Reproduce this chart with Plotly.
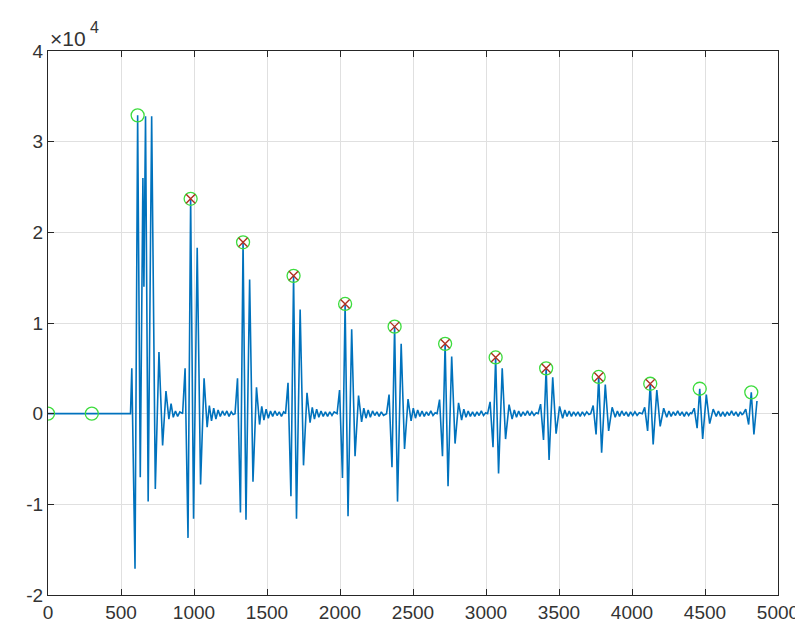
import plotly.graph_objects as go

# ---- data (sample index, raw amplitude) ----
lead_t = [0, 300, 565]
lead_v = [0, 0, 0]

b01_t = [574, 596, 614, 632, 650, 657, 668, 686, 710, 735, 760, 785, 808, 828, 843, 858, 873, 888, 903]
b01_v = [5000, -17100, 32900, -7000, 26000, 14000, 32800, -9700, 32800, -8300, 6800, -3500, 2500, -600, 1100, -400, 300, -300, 200]

b02_t = [922, 939, 959, 977, 997, 1022, 1045, 1069, 1090, 1105, 1120, 1135, 1150, 1165, 1180, 1195, 1210, 1225, 1240, 1255, 1268]
b02_v = [0, 5000, -13700, 23700, -11600, 18300, -7800, 3900, -1500, 900, -800, 600, -600, 400, -300, 300, -200, 300, -300, 200, -100]

b03_t = [1281, 1298, 1318, 1336, 1356, 1381, 1404, 1428, 1449, 1464, 1479, 1494, 1509, 1524, 1539, 1554, 1569, 1584, 1599, 1614]
b03_v = [0, 3900, -10900, 18900, -11700, 14800, -7500, 2900, -1200, 800, -700, 500, -500, 300, -300, 300, -200, 200, -300, 200]

b04_t = [1627, 1644, 1664, 1682, 1702, 1727, 1750, 1774, 1795, 1810, 1825, 1840, 1855, 1870, 1885, 1900, 1915, 1930, 1945, 1960]
b04_v = [0, 3400, -9100, 15200, -11600, 11500, -5700, 2300, -1000, 700, -600, 500, -400, 300, -300, 200, -300, 200, -200, 200]

b05_t = [1980, 1997, 2017, 2035, 2055, 2080, 2103, 2127, 2148, 2163, 2178, 2193, 2208, 2223, 2238, 2253, 2268, 2283, 2298]
b05_v = [0, 2600, -7100, 12100, -11300, 9300, -4700, 2000, -900, 600, -500, 400, -400, 300, -200, 200, -300, 200, -200]

b06_t = [2319, 2336, 2356, 2374, 2394, 2419, 2442, 2466, 2487, 2502, 2517, 2532, 2547, 2562, 2577, 2592, 2607, 2622, 2637, 2652]
b06_v = [0, 2100, -5900, 9600, -9700, 7700, -3900, 1600, -800, 600, -500, 400, -300, 300, -300, 200, -200, 300, -200, 100]

b07_t = [2665, 2682, 2702, 2720, 2740, 2765, 2788, 2812, 2833, 2848, 2863, 2878, 2893, 2908, 2923, 2938, 2953, 2968, 2983, 2998]
b07_v = [0, 1550, -4700, 7700, -8000, 6300, -3300, 1200, -700, 500, -400, 300, -300, 200, -300, 200, -200, 300, -200, 100]

b08_t = [3011, 3028, 3048, 3066, 3086, 3111, 3134, 3158, 3179, 3194, 3209, 3224, 3239, 3254, 3269, 3284, 3299, 3314, 3329, 3344]
b08_v = [0, 1300, -3700, 6200, -6600, 5000, -2800, 1000, -600, 400, -400, 300, -300, 200, -200, 300, -200, 200, -200, 100]

b09_t = [3357, 3374, 3394, 3412, 3432, 3457, 3480, 3504, 3525, 3540, 3555, 3570, 3585, 3600, 3615, 3630, 3645, 3660, 3675, 3690, 3705]
b09_v = [0, 1050, -2900, 5000, -5100, 4000, -2200, 800, -500, 400, -300, 300, -300, 200, -200, 200, -300, 200, -200, 200, -100]

b10_t = [3717, 3734, 3754, 3772, 3792, 3817, 3840, 3864, 3885, 3900, 3915, 3930, 3945, 3960, 3975, 3990, 4005, 4020, 4035, 4050]
b10_v = [0, 900, -2300, 4050, -4300, 3200, -1900, 700, -400, 300, -300, 300, -200, 200, -300, 200, -200, 200, -200, 100]

b11_t = [4070, 4087, 4107, 4125, 4145, 4170, 4193, 4217, 4238, 4253, 4268, 4283, 4298, 4313, 4328, 4343, 4358, 4373, 4388, 4400]
b11_v = [0, 700, -1900, 3300, -3400, 2600, -1400, 600, -400, 300, -300, 200, -200, 300, -200, 200, -300, 200, -200, 100]

b12_t = [4409, 4426, 4446, 4464, 4484, 4509, 4532, 4556, 4577, 4592, 4607, 4622, 4637, 4652, 4667, 4682, 4697, 4712, 4727, 4742, 4754]
b12_v = [0, 600, -1600, 2750, -2800, 2100, -1100, 500, -300, 300, -300, 200, -300, 200, -200, 300, -200, 200, -300, 200, -100]

b13_t = [4762, 4779, 4799, 4817, 4835, 4856]
b13_v = [0, 500, -1200, 2350, -2300, 1400]

# detected peaks (green circles) and accepted peaks (red crosses)
circle_x = [0, 300, 614, 977, 1336, 1682, 2035, 2374, 2720, 3066, 3412, 3772, 4125, 4464, 4817]
circle_y = [0, 0, 32900, 23700, 18900, 15200, 12100, 9600, 7700, 6200, 5000, 4050, 3300, 2750, 2350]
cross_x = [977, 1336, 1682, 2035, 2374, 2720, 3066, 3412, 3772, 4125]
cross_y = [23700, 18900, 15200, 12100, 9600, 7700, 6200, 5000, 4050, 3300]

x_ticks = [0, 500, 1000, 1500, 2000, 2500, 3000, 3500, 4000, 4500, 5000]
y_ticks = [-20000, -10000, 0, 10000, 20000, 30000, 40000]
y_tick_text = ["-2", "-1", "0", "1", "2", "3", "4"]
exp_base = "\u00d710"
exp_power = "4"

sig_t = (lead_t + b01_t + b02_t + b03_t + b04_t + b05_t + b06_t + b07_t
         + b08_t + b09_t + b10_t + b11_t + b12_t + b13_t)
sig_v = (lead_v + b01_v + b02_v + b03_v + b04_v + b05_v + b06_v + b07_v
         + b08_v + b09_v + b10_v + b11_v + b12_v + b13_v)

FONT = "Liberation Sans, Arial, Helvetica, sans-serif"

fig = go.Figure()
fig.add_trace(go.Scatter(x=sig_t, y=sig_v, mode="lines",
                         line=dict(color="#0072BD", width=1.6), showlegend=False))
fig.add_trace(go.Scatter(x=circle_x, y=circle_y, mode="markers",
                         marker=dict(symbol="circle-open", size=13, color="#3ddc3d",
                                     line=dict(width=1.3, color="#3ddc3d")),
                         showlegend=False))
fig.add_trace(go.Scatter(x=cross_x, y=cross_y, mode="markers",
                         marker=dict(symbol="x-thin", size=9, color="#b03020",
                                     line=dict(width=1.4, color="#b03020")),
                         showlegend=False))

axis_common = dict(
    showline=True, linecolor="#262626", linewidth=1, mirror="ticks",
    ticks="inside", ticklen=6, tickcolor="#262626", tickwidth=1,
    showgrid=True, gridcolor="#e0e0e0", gridwidth=1, zeroline=False,
    tickfont=dict(family=FONT, size=19, color="#333333"),
)
fig.update_xaxes(range=[0, 5000], tickvals=x_ticks, **axis_common)
fig.update_yaxes(range=[-20000, 40000], tickvals=y_ticks, ticktext=y_tick_text, **axis_common)

fig.add_annotation(xref="paper", yref="paper", x=0, y=1, xanchor="left", yanchor="bottom",
                   text=exp_base, showarrow=False, xshift=0, yshift=-1,
                   font=dict(family=FONT, size=21, color="#333333"))
fig.add_annotation(xref="paper", yref="paper", x=0, y=1, xanchor="left", yanchor="bottom",
                   text=exp_power, showarrow=False, xshift=40, yshift=13,
                   font=dict(family=FONT, size=16, color="#333333"))

fig.update_layout(
    width=803, height=627, autosize=False,
    margin=dict(l=40, r=26, t=43, b=33),
    plot_bgcolor="white", paper_bgcolor="white",
    showlegend=False,
)

fig.write_html("out.html")
